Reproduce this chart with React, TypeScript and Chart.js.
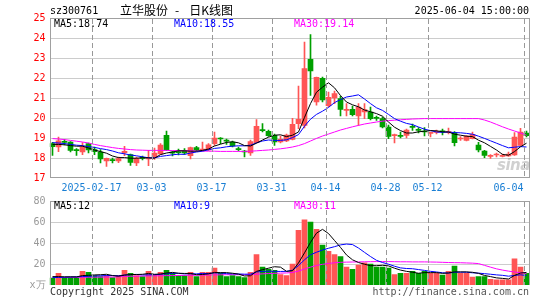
import React, { useEffect, useRef } from 'react';
import { Chart, registerables } from 'chart.js';
Chart.register(...registerables);

// ---- data ----
const dates = [
  '02-06','02-07','02-10','02-11','02-12','02-13','02-14','02-17','02-18','02-19','02-20','02-21','02-24','02-25','02-26','02-27','02-28',
  '03-03','03-04','03-05','03-06','03-07','03-10','03-11','03-12','03-13','03-14','03-17','03-18','03-19','03-20','03-21','03-24','03-25','03-26','03-27','03-28','03-31',
  '04-01','04-02','04-03','04-07','04-08','04-09','04-10','04-11','04-14','04-15','04-16','04-17','04-18','04-21','04-22','04-23','04-24','04-25','04-28','04-29','04-30',
  '05-06','05-07','05-08','05-09','05-12','05-13','05-14','05-15','05-16','05-19','05-20','05-21','05-22','05-23','05-26','05-27','05-28','05-29','05-30',
  '06-03','06-04',
];

const open = [
  18.72,18.55,18.82,18.80,18.40,18.30,18.72,18.42,18.30,17.86,
  17.90,17.85,18.27,18.17,17.76,18.03,17.95,18.02,18.20,19.13,
  18.27,18.32,18.36,18.12,18.52,18.40,18.40,18.72,18.98,18.88,
  18.80,18.45,18.35,18.25,18.77,19.40,19.33,19.13,18.80,18.85,
  18.93,19.72,19.63,22.93,20.80,21.98,20.62,21.00,20.97,20.38,
  20.43,20.10,20.30,20.30,20.02,19.97,19.55,19.12,19.12,19.13,
  19.57,19.42,19.34,19.23,19.28,19.35,19.28,19.27,18.95,18.88,
  18.97,18.65,18.35,18.08,18.15,18.08,18.10,18.15,18.63,19.24,
];
const close = [
  18.57,18.86,18.78,18.38,18.37,18.55,18.40,18.32,17.95,17.98,
  17.87,17.97,18.33,17.78,17.98,17.98,17.98,18.25,18.65,18.40,
  18.24,18.27,18.26,18.52,18.40,18.43,18.66,19.00,18.95,18.84,
  18.60,18.42,18.30,18.82,19.58,19.37,19.12,18.80,18.93,19.15,
  19.68,19.93,22.47,22.35,22.03,20.90,21.03,21.22,20.43,20.43,
  20.17,20.55,20.42,19.97,19.98,19.55,19.08,19.14,19.08,19.40,
  19.53,19.38,19.30,19.26,19.32,19.31,19.30,18.77,18.98,19.10,
  19.18,18.40,18.13,18.10,18.17,18.10,18.20,19.05,19.30,19.12,
];
const high = [
  18.78,19.05,18.92,18.82,18.47,18.77,18.75,18.55,18.42,18.00,
  18.00,18.05,18.58,18.20,18.05,18.10,18.38,18.50,18.72,19.35,
  18.35,18.45,18.47,18.55,18.58,18.80,18.72,19.30,19.02,18.95,
  18.85,18.55,18.38,18.90,19.92,19.72,19.40,19.20,19.10,19.20,
  19.98,21.60,23.80,24.17,22.05,22.05,21.30,21.35,21.10,20.72,
  20.60,20.72,20.72,20.55,20.10,20.05,19.65,19.20,19.30,19.45,
  19.70,19.52,19.52,19.30,19.40,19.45,19.50,19.32,19.07,19.12,
  19.30,18.78,18.38,18.17,18.25,18.20,18.30,19.27,19.48,19.35,
];
const low = [
  18.13,18.32,18.65,18.30,18.13,18.17,18.25,18.17,17.75,17.58,
  17.75,17.77,18.12,17.63,17.62,17.90,17.62,17.93,18.18,18.38,
  18.10,18.15,18.18,17.95,18.35,18.35,18.38,18.63,18.72,18.68,
  18.55,18.35,18.05,18.13,18.75,19.30,19.08,18.63,18.75,18.82,
  18.90,19.47,19.50,21.13,20.64,20.80,20.55,20.72,20.10,20.10,
  20.10,19.63,19.97,19.90,19.88,19.50,18.97,18.75,19.00,19.00,
  19.38,19.25,19.10,19.05,19.20,19.15,19.20,18.60,18.88,18.85,
  18.95,18.30,18.02,17.98,18.05,18.05,18.08,18.13,18.60,19.05,
];
const ma5 = [
  18.68,18.68,18.66,18.62,18.59,18.59,18.50,18.40,18.32,18.24,
  18.10,18.02,18.02,17.99,17.99,18.01,18.01,17.99,18.17,18.25,
  18.30,18.36,18.36,18.34,18.34,18.38,18.45,18.60,18.69,18.78,
  18.81,18.76,18.62,18.60,18.74,18.90,19.04,19.14,19.16,19.07,
  19.14,19.30,20.03,20.72,21.29,21.54,21.76,21.51,21.12,20.80,
  20.66,20.56,20.40,20.31,20.22,20.09,19.80,19.54,19.37,19.25,
  19.25,19.31,19.34,19.37,19.36,19.31,19.30,19.19,19.14,19.09,
  19.07,18.89,18.76,18.58,18.40,18.18,18.14,18.32,18.56,18.74,
];
const ma10 = [
  18.77,18.75,18.72,18.68,18.64,18.62,18.57,18.53,18.47,18.42,
  18.35,18.26,18.21,18.15,18.11,18.06,18.01,18.01,18.08,18.12,
  18.16,18.19,18.18,18.25,18.30,18.34,18.41,18.48,18.51,18.56,
  18.59,18.61,18.61,18.64,18.76,18.85,18.90,18.88,18.88,18.91,
  19.02,19.17,19.59,19.94,20.18,20.34,20.53,20.77,20.92,21.05,
  21.10,21.16,20.95,20.72,20.51,20.38,20.18,19.97,19.84,19.73,
  19.67,19.55,19.44,19.37,19.30,19.28,19.30,19.27,19.26,19.23,
  19.19,19.09,18.98,18.86,18.74,18.62,18.51,18.54,18.57,18.55,
];
const ma30 = [
  18.97,18.95,18.92,18.88,18.84,18.80,18.75,18.68,18.62,18.57,
  18.52,18.48,18.45,18.42,18.40,18.39,18.38,18.38,18.38,18.38,
  18.37,18.37,18.36,18.36,18.35,18.35,18.34,18.34,18.33,18.33,
  18.33,18.33,18.33,18.34,18.36,18.38,18.40,18.43,18.46,18.50,
  18.55,18.62,18.72,18.85,18.98,19.10,19.20,19.30,19.40,19.48,
  19.56,19.63,19.70,19.75,19.80,19.84,19.87,19.89,19.91,19.93,
  19.95,19.96,19.97,19.97,19.97,19.97,19.97,19.97,19.97,19.97,
  19.97,19.97,19.90,19.80,19.68,19.56,19.45,19.35,19.25,19.14,
];
const volume = [
  6.5,11,7,7,7,13,12,9,8,9,
  7,9,14,11,9,8,13,10,12,14,
  11,9,9,12,8,12,12,16,11,8,
  9,8,7,12,29,17,15,14,10,9,
  20,52,62,60,53,38,32,29,27,17,
  15,19,21,20,17,17,16,10,11,11,
  13,11,13,11,11,9.5,13,18,11,11,
  7.5,8,8,5.5,5,5,5,25,17,11,
];
const vma5 = [
  8.0,8.0,7.8,7.8,7.7,9.0,9.2,9.6,9.8,10.2,
  9.0,8.4,9.4,10.0,10.0,10.2,11.0,10.2,10.4,11.4,
  12.0,11.2,11.0,11.0,9.8,10.0,10.6,12.0,11.8,11.8,
  11.2,10.4,8.6,8.8,13.0,14.6,16.0,17.4,17.0,13.0,
  13.6,21.0,30.6,40.6,49.4,53.0,49.0,42.4,35.8,28.6,
  24.0,21.4,19.8,18.4,18.4,18.8,18.2,16.0,14.2,13.0,
  12.2,11.2,11.8,11.8,11.8,11.1,11.5,12.5,12.5,12.5,
  12.1,11.1,9.1,8.0,6.8,6.3,5.7,9.1,11.4,12.0,
];
const vma10 = [
  7.0,7.2,7.4,7.6,7.8,8.0,8.3,8.6,8.8,8.95,
  9.0,8.8,9.5,9.9,10.1,9.6,9.7,9.8,10.2,10.7,
  11.1,11.1,10.6,10.7,10.6,11.0,10.9,11.5,11.4,10.8,
  10.6,10.5,10.3,10.3,12.4,12.9,13.2,13.0,12.9,13.0,
  14.1,18.5,24.0,28.8,31.2,33.3,35.0,36.5,38.2,39.0,
  38.5,35.2,31.1,27.1,23.5,21.4,19.8,17.9,16.3,15.7,
  15.5,14.7,13.9,13.0,12.4,11.65,11.35,12.15,12.15,12.15,
  11.6,11.3,10.8,10.25,9.65,9.2,8.4,9.1,9.7,9.0,
];
const vma30 = [
  7.2,7.2,7.2,7.3,7.3,7.4,7.4,7.5,7.5,7.6,
  7.6,7.7,8.2,8.3,8.4,8.5,8.6,8.7,8.8,8.9,
  9.0,9.1,9.2,9.3,9.3,9.4,9.5,9.6,9.7,9.8,
  9.8,9.8,9.8,9.9,10.3,10.6,10.9,11.1,11.3,11.5,
  11.9,13.3,15.2,17.0,18.6,19.7,20.5,21.2,21.6,21.8,
  21.9,22.0,22.1,22.2,22.3,22.3,22.3,22.2,22.1,22.1,
  22.0,22.0,22.0,21.9,21.8,21.6,21.4,21.3,21.2,21.0,
  20.8,20.4,18.7,17.0,15.4,14.2,13.2,12.4,11.7,11.0,
];
const tickIndex = [7, 17, 27, 37, 46, 56, 63, 79];
const tickText = ['2025-02-17', '03-03', '03-17', '03-31', '04-14', '04-28', '05-12', '06-04'];
const priceTicks = [17, 18, 19, 20, 21, 22, 23, 24, 25];
const volumeTicks = [0, 20, 40, 60, 80];
const volumeUnit = 'x万';

// ---- styles ----
const UP = '#ff5555';
const DOWN = '#00a000';
const GRID = '#999999';
const FRAME = '#a0a0a0';
const MONO = '"DejaVu Sans Mono", "Liberation Mono", monospace';
const CJK = '"Noto Sans CJK SC", sans-serif';

const candleColor = close.map((c, i) => (c >= open[i] ? UP : DOWN));

// frame around the plot and dashed date grid lines, placed with the x scale
const framePlugin = (withBottom: boolean) => ({
  id: 'frame',
  afterDatasetsDraw(chart: any) {
    const { ctx, chartArea: a } = chart;
    const xs = chart.scales.x;
    const top = Math.round(a.top);
    const bottom = Math.round(a.bottom);
    ctx.save();
    ctx.globalAlpha = 1;
    ctx.globalCompositeOperation = 'source-over';
    ctx.fillStyle = GRID;
    for (let k = 0; k < tickIndex.length; k++) {
      let p = Number(xs.getPixelForValue(tickIndex[k] - 0.5));
      if (!isFinite(p)) p = a.left + (tickIndex[k] * (a.right - a.left)) / dates.length;
      const px = Math.round(p);
      for (let y = top + 1; y < bottom; y += 8) {
        ctx.fillRect(px, y, 1, Math.min(5, bottom - y));
      }
    }
    ctx.fillStyle = FRAME;
    const l = Math.round(a.left);
    const r = Math.round(a.right) - 1;
    ctx.fillRect(l, top, 1, bottom - top);
    ctx.fillRect(r, top, 1, bottom - top);
    ctx.fillRect(l, top, r - l + 1, 1);
    if (withBottom) ctx.fillRect(l, bottom - 1, r - l + 1, 1);
    ctx.restore();
  },
});

const xScale = (showLabels: boolean, height: number) => ({
  type: 'category',
  offset: true,
  afterBuildTicks: (s: any) => {
    s.ticks = tickIndex.map((v) => ({ value: v - 0.5 }));
  },
  grid: { display: false, drawTicks: false },
  border: { display: false },
  ticks: {
    display: showLabels,
    autoSkip: false,
    maxRotation: 0,
    minRotation: 0,
    padding: 4,
    color: '#1a7fd4',
    font: { family: MONO, size: 10 },
    callback: (_v: any, i: number) =>
      i === tickText.length - 1 ? tickText[i].padEnd(10, ' ') : tickText[i],
  },
  afterFit: (s: any) => {
    s.height = height;
    s.paddingLeft = 0;
    s.paddingRight = 0;
  },
});

const line = (data: number[], color: string) => ({
  type: 'line',
  data,
  borderColor: color,
  borderWidth: 1,
  pointRadius: 0,
  tension: 0,
  fill: false,
  order: 0,
});

const yScale = (ticksList: number[], color: string, fmt: (v: number) => string) => ({
  min: ticksList[0],
  max: ticksList[ticksList.length - 1],
  afterBuildTicks: (s: any) => {
    s.ticks = ticksList.map((v) => ({ value: v }));
  },
  ticks: {
    color,
    padding: 4,
    font: { family: MONO, size: 10 },
    callback: (v: any) => fmt(v),
  },
  grid: {
    drawTicks: false,
    color: GRID,
    lineWidth: (ctx: any) =>
      ctx.tick && (ctx.tick.value === ticksList[0] || ctx.tick.value === ticksList[ticksList.length - 1]) ? 0 : 1,
  },
  border: { display: false, dash: [1, 1], dashOffset: 0.5 },
  afterFit: (s: any) => {
    s.width = 49.5;
  },
});

export default function App() {
  const priceRef = useRef<HTMLCanvasElement>(null);
  const volRef = useRef<HTMLCanvasElement>(null);

  useEffect(() => {
    const price = new Chart(priceRef.current as HTMLCanvasElement, {
      type: 'bar',
      data: {
        labels: dates,
        datasets: [
          line(ma5, '#000000'),
          line(ma10, '#0000ff'),
          line(ma30, '#ff00ff'),
          {
            type: 'bar',
            data: open.map((o, i) => [o, close[i]]),
            backgroundColor: candleColor,
            barThickness: 5,
            minBarLength: 1,
            grouped: false,
            order: 1,
          },
          {
            type: 'bar',
            data: low.map((l, i) => [l, high[i]]),
            backgroundColor: candleColor,
            barThickness: 1,
            grouped: false,
            order: 2,
          },
        ] as any,
      },
      options: {
        responsive: false,
        animation: false,
        events: [],
        layout: { padding: { left: 0, right: 15.5, top: 18, bottom: 0 } },
        plugins: { legend: { display: false }, tooltip: { enabled: false } },
        scales: {
          x: xScale(true, 22) as any,
          y: yScale(priceTicks, '#ff0000', (v) => String(v)) as any,
        },
      },
      plugins: [framePlugin(true)],
    } as any);

    const vol = new Chart(volRef.current as HTMLCanvasElement, {
      type: 'bar',
      data: {
        labels: dates,
        datasets: [
          line(vma5, '#000000'),
          line(vma10, '#0000ff'),
          line(vma30, '#ff00ff'),
          {
            type: 'bar',
            data: volume,
            backgroundColor: candleColor,
            barThickness: 5,
            grouped: false,
            order: 1,
          },
        ] as any,
      },
      options: {
        responsive: false,
        animation: false,
        events: [],
        layout: { padding: { left: 0, right: 15.5, top: 11, bottom: 0 } },
        plugins: { legend: { display: false }, tooltip: { enabled: false } },
        scales: {
          x: xScale(false, 15) as any,
          y: yScale(volumeTicks, '#999999', (v) => (v === 0 ? volumeUnit : String(v))) as any,
        },
      },
      plugins: [framePlugin(false)],
    } as any);

    return () => {
      price.destroy();
      vol.destroy();
    };
  }, []);

  const txt = (extra: React.CSSProperties): React.CSSProperties => ({
    position: 'absolute',
    font: `10px ${MONO}`,
    lineHeight: '12px',
    whiteSpace: 'pre',
    ...extra,
  });

  return (
    <div style={{ position: 'absolute', left: 0, top: 0, width: 545, height: 300, overflow: 'hidden', background: '#fff' }}>
      <canvas ref={priceRef} width={545} height={200} style={{ position: 'absolute', left: 0, top: 0 }} />
      <canvas ref={volRef} width={545} height={110} style={{ position: 'absolute', left: 0, top: 190 }} />

      <div style={txt({ left: 50, top: 5, color: '#000' })}>sz300761</div>
      <div style={{ position: 'absolute', left: 120, top: 3, font: `12px ${CJK}`, lineHeight: '14px', color: '#000', whiteSpace: 'pre' }}>
        立华股份<span style={{ marginLeft: 7, marginRight: 10 }}>-</span>日K线图
      </div>
      <div style={txt({ right: 16, top: 5, color: '#000' })}>2025-06-04 15:00:00</div>

      <div style={txt({ left: 54, top: 18, color: '#000' })}>MA5:18.74</div>
      <div style={txt({ left: 174, top: 18, color: '#0000ff' })}>MA10:18.55</div>
      <div style={txt({ left: 294, top: 18, color: '#ff00ff' })}>MA30:19.14</div>

      <div
        style={{
          position: 'absolute',
          left: 497,
          top: 156,
          font: 'italic bold 15px "DejaVu Sans", sans-serif',
          color: 'rgba(150,150,150,0.45)',
          letterSpacing: '-0.5px',
        }}
      >
        sina
      </div>

      <div style={txt({ left: 54, top: 200, color: '#000' })}>MA5:12</div>
      <div style={txt({ left: 174, top: 200, color: '#0000ff' })}>MA10:9</div>
      <div style={txt({ left: 294, top: 200, color: '#ff00ff' })}>MA30:11</div>

      <div style={txt({ left: 50, top: 286, color: '#333' })}>Copyright 2025 SINA.COM</div>
      <div style={txt({ right: 16, top: 286, color: '#555' })}>http://finance.sina.com.cn</div>
    </div>
  );
}
